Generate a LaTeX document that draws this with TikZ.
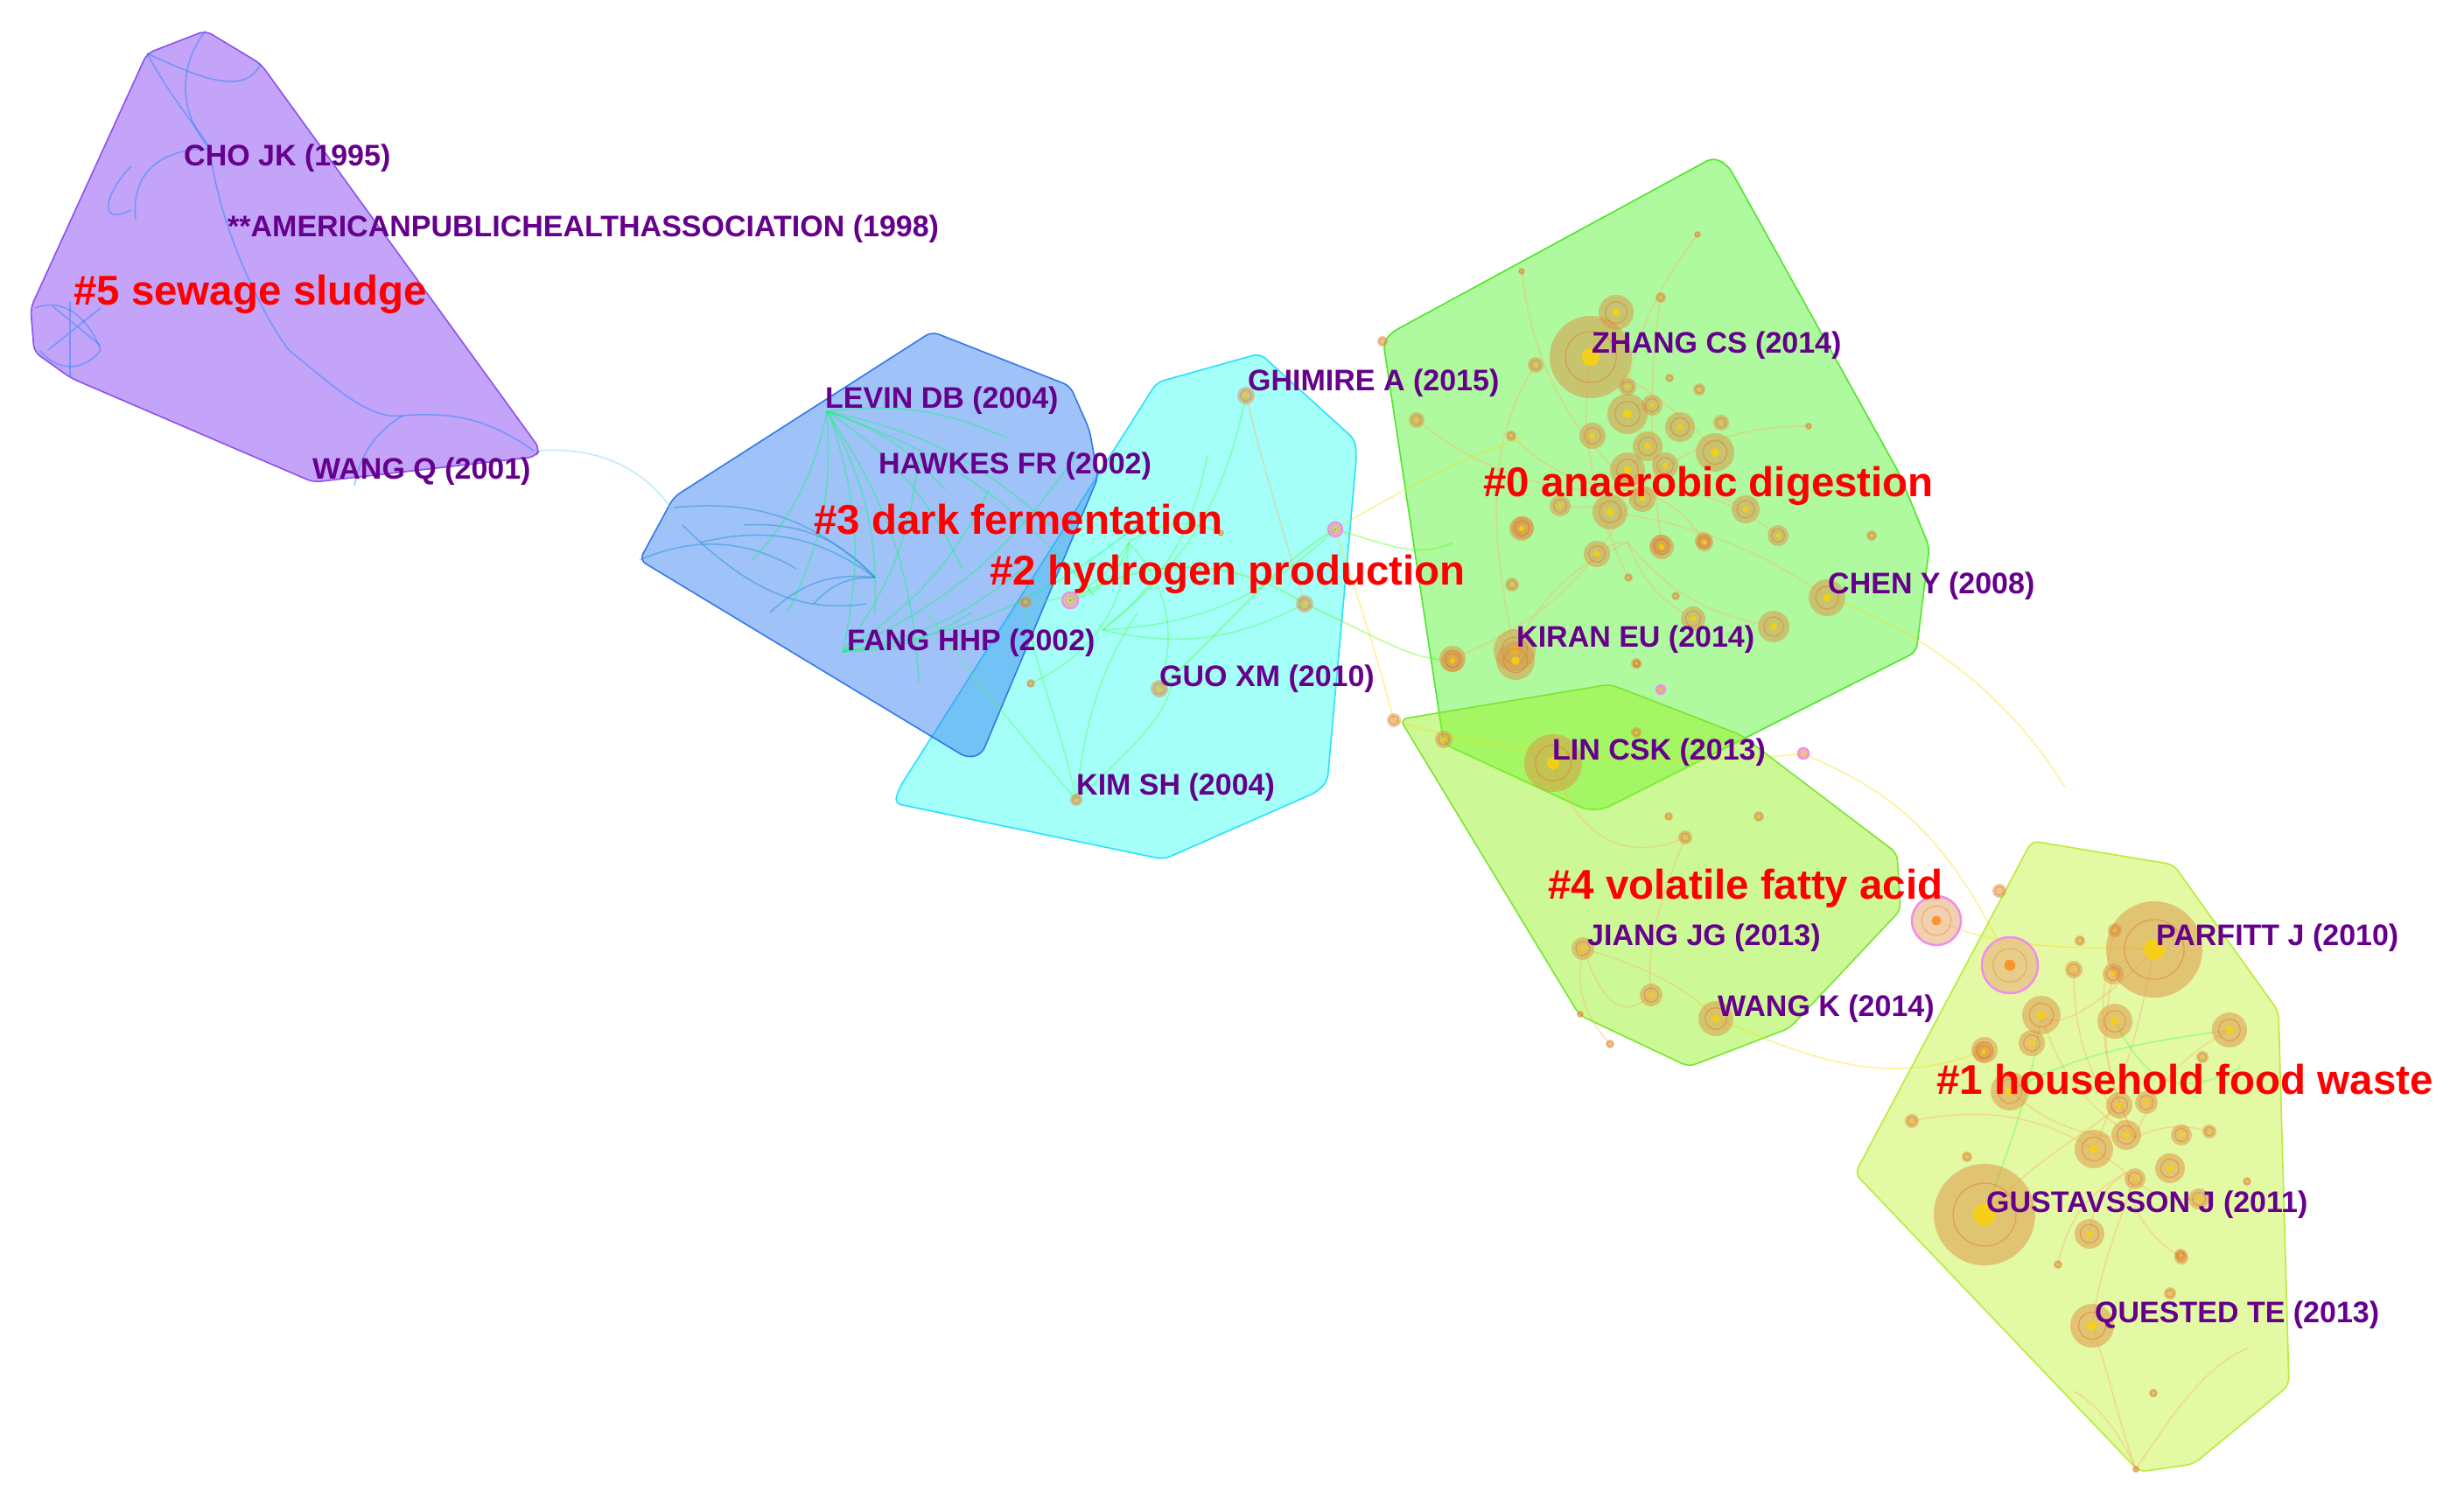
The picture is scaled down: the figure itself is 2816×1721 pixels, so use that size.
\documentclass[tikz,border=0pt]{standalone}
\usepackage{fontspec}
\setmainfont{Liberation Sans}
\definecolor{cfive}{RGB}{137,75,245}\definecolor{bfive}{RGB}{140,80,240}
\definecolor{cthree}{RGB}{65,135,245}\definecolor{bthree}{RGB}{50,120,235}
\definecolor{ctwo}{RGB}{75,255,245}\definecolor{btwo}{RGB}{40,225,250}
\definecolor{czero}{RGB}{97,245,65}\definecolor{bzero}{RGB}{80,230,40}
\definecolor{cfour}{RGB}{155,245,45}\definecolor{bfour}{RGB}{120,230,50}
\definecolor{cone}{RGB}{201,245,75}\definecolor{bone}{RGB}{185,235,60}
\definecolor{lblpurple}{RGB}{102,0,140}
\definecolor{bubor}{RGB}{222,145,65}
\definecolor{bubpink}{RGB}{240,140,240}
\newcommand{\bub}[3]{\fill[bubor,opacity=0.5] (#1,#2) circle[radius=#3];
  \draw[bubor!80!red,opacity=0.5,line width=1.2pt] (#1,#2) circle[radius=0.62*#3];
  \fill[yellow!70!orange,opacity=0.8] (#1,#2) circle[radius=0.22*#3];}
\newcommand{\pbub}[3]{\fill[bubor!70!white,opacity=0.6] (#1,#2) circle[radius=#3];
  \draw[bubpink,line width=2.5pt] (#1,#2) circle[radius=#3];
  \draw[bubor,opacity=0.5,line width=1.2pt] (#1,#2) circle[radius=0.6*#3];
  \fill[orange,opacity=0.7] (#1,#2) circle[radius=0.2*#3];}
\begin{document}
\begin{tikzpicture}[x=1pt,y=-1pt,
  clus/.style={fill opacity=0.5,line width=1.6pt,rounded corners=8pt},
  lblred/.style={text=red,font=\fontsize{47.5}{50}\selectfont\bfseries,anchor=west,inner sep=0pt},
  lblp/.style={text=lblpurple,font=\fontsize{34}{36}\selectfont\bfseries,anchor=west,inner sep=0pt},
  lnk/.style={line width=1.6pt,opacity=0.4}]
\useasboundingbox (0,0) rectangle (2816,1721);
\fill[white] (0,0) rectangle (2816,1721);
% clusters
\draw[clus,fill=cfive,draw=bfive] (235,35) -- (298,73) -- (617,513) -- (612,522) -- (358,551) -- (81,432) -- (39,402) -- (35,352) -- (168,61) -- cycle;
\draw[clus,fill=ctwo,draw=btwo] (1322,437) -- (1440,404) -- (1549,503) -- (1550,525) -- (1517,893) -- (1505,905) -- (1330,982) -- (1022,918) -- (1028,900) -- cycle;
\draw[clus,fill=cthree,draw=bthree] (1065,379) -- (1223,441) -- (1245,491) -- (1255,545) -- (1122,862) -- (1105,866) -- (731,640) -- (770,568) -- cycle;
\draw[clus,fill=czero,draw=bzero] (1958,180) -- (1975,189) -- (2170,540) -- (2205,625) -- (2190,745) -- (1832,925) -- (1812,925) -- (1650,850) -- (1581,392) -- (1590,380) -- cycle;
\draw[clus,fill=cfour,draw=bfour] (1600,822) -- (1840,782) -- (1990,840) -- (2168,975) -- (2172,1040) -- (2045,1175) -- (1930,1219) -- (1805,1160) -- cycle;
\draw[clus,fill=cone,draw=bone] (2322,961) -- (2484,988) -- (2604,1156) -- (2616,1583) -- (2507,1673) -- (2445,1682) -- (2120,1341) -- cycle;
% links
\begin{scope}[lnk]
\draw[cyan!60] (617,515) .. controls (690,510) and (740,540) .. (770,585);
\begin{scope}[blue!50!cyan]
\draw (168,61) .. controls (200,120) and (230,150) .. (240,170);
\draw (240,170) .. controls (180,170) and (150,200) .. (155,250);
\draw (240,170) .. controls (250,260) and (300,360) .. (330,400);
\draw (330,400) .. controls (380,440) and (420,480) .. (460,475);
\draw (460,475) .. controls (520,470) and (560,480) .. (610,515);
\draw (460,475) .. controls (420,500) and (410,530) .. (405,555);
\draw (40,352) .. controls (70,340) and (100,360) .. (115,400) .. controls (100,420) and (70,430) .. (45,400);
\draw (60,350) -- (115,395) (115,352) -- (55,400) (80,345) -- (80,430);
\draw (168,61) .. controls (230,90) and (280,110) .. (298,73);
\draw (240,170) to[bend left=40] (235,35);
\draw (150,190) .. controls (120,220) and (110,260) .. (150,240);
\end{scope}
\begin{scope}[cyan!70!blue]
\foreach \a/\b in {770/580, 800/620, 850/600, 880/700, 930/690}
  \draw (\a,\b) to[bend left=25] (1000,660);
\draw (731,640) .. controls (800,610) and (860,620) .. (910,650);
\draw (780,600) .. controls (860,680) and (920,700) .. (990,690);
\end{scope}
\begin{scope}[green!60!cyan]
\foreach \a/\b in {1000/700, 1050/780, 1100/650, 1200/600, 1150/500, 900/700, 860/640, 1080/560, 1250/680}
  \draw (945,470) to[bend left=15] (\a,\b);
\foreach \a/\b in {950/480, 1050/520, 1130/560, 1230/520, 1180/640, 1300/600, 1110/700}
  \draw (963,745) to[bend right=15] (\a,\b);
\end{scope}
\begin{scope}[green!70]
\draw (1230,914) .. controls (1210,820) and (1180,760) .. (1172,688);
\draw (1230,914) .. controls (1240,820) and (1260,760) .. (1300,700);
\draw (1230,914) .. controls (1150,820) and (1100,760) .. (1060,700);
\draw (1230,914) .. controls (1300,850) and (1330,820) .. (1340,780);
\foreach \a/\b in {1172/688, 1223/686, 1325/787, 1395/609, 1178/781}
  \draw (1290,620) to[bend left=30] (\a,\b);
\foreach \a/\b in {1424/452, 1491/690, 1526/605, 1380/520}
  \draw (1260,720) to[bend right=20] (\a,\b);
\end{scope}
\begin{scope}[green!70!yellow]
\draw (1325,787) .. controls (1400,720) and (1450,650) .. (1526,605);
\draw (1223,686) .. controls (1300,640) and (1400,630) .. (1491,690);
\draw (1491,690) .. controls (1560,720) and (1620,760) .. (1660,753);
\draw (1526,605) .. controls (1580,620) and (1620,640) .. (1660,620);
\end{scope}
\begin{scope}[orange!60]
\draw (1424,452) .. controls (1450,560) and (1480,650) .. (1491,690);
\draw (1818,408) .. controls (1800,500) and (1830,600) .. (1861,660);
\draw (1818,408) .. controls (1900,450) and (1950,500) .. (1960,517);
\draw (1755,417) .. controls (1700,500) and (1700,600) .. (1731,743);
\draw (1898,340) .. controls (1880,450) and (1890,550) .. (1899,625);
\draw (1940,268) .. controls (1900,320) and (1870,380) .. (1860,442);
\draw (1840,585) .. controls (1950,600) and (2030,640) .. (2088,683);
\foreach \a/\b in {1619/480, 1727/498, 1660/753, 1783/578, 1995/582, 2032/612, 1947/618, 1739/310, 2067/487}
  \draw (1870,560) to[bend left=20] (\a,\b);
\foreach \a/\b in {1731/743, 1935/707, 2027/716, 1825/633}
  \draw (1860,620) to[bend right=20] (\a,\b);
\draw (1809,1084) .. controls (1830,1140) and (1850,1170) .. (1887,1137);
\draw (1809,1084) .. controls (1900,1110) and (1940,1140) .. (1961,1164);
\draw (1809,1084) .. controls (1800,1130) and (1810,1160) .. (1840,1193);
\draw (1926,957) .. controls (1900,1020) and (1880,1080) .. (1887,1137);
\draw (1775,872) .. controls (1800,950) and (1850,990) .. (1926,957);
\draw (2462,1085) .. controls (2440,1200) and (2420,1250) .. (2393,1313);
\draw (2462,1085) .. controls (2400,1150) and (2350,1180) .. (2333,1160);
\draw (2268,1388) .. controls (2330,1320) and (2380,1300) .. (2422,1263);
\draw (2391,1515) .. controls (2400,1450) and (2420,1400) .. (2440,1347);
\draw (2441,1679) .. controls (2420,1620) and (2410,1570) .. (2391,1515);
\draw (2441,1679) .. controls (2480,1620) and (2520,1560) .. (2570,1540);
\draw (2441,1679) .. controls (2420,1630) and (2390,1600) .. (2370,1590);
\foreach \a/\b in {2370/1108, 2415/1113, 2417/1063, 2333/1160, 2548/1177, 2297/1247, 2525/1293}
  \draw (2440,1300) to[bend left=20] (\a,\b);
\foreach \a/\b in {2388/1410, 2513/1370, 2493/1437, 2185/1281, 2352/1445}
  \draw (2430,1340) to[bend right=25] (\a,\b);
\end{scope}
\begin{scope}[yellow!80!orange]
\draw (1526,605) .. controls (1600,560) and (1680,520) .. (1740,500);
\draw (1593,823) .. controls (1700,860) and (1900,880) .. (2060,861);
\draw (2060,861) .. controls (2150,900) and (2220,940) .. (2297,1103);
\draw (2088,683) .. controls (2200,720) and (2300,800) .. (2360,900);
\draw (2213,1052) .. controls (2300,1090) and (2380,1080) .. (2462,1085);
\draw (1961,1164) .. controls (2050,1200) and (2150,1250) .. (2268,1200);
\draw (1593,823) .. controls (1560,700) and (1540,650) .. (1526,605);
\end{scope}
\begin{scope}[green!70]
\draw (2297,1247) .. controls (2380,1200) and (2460,1190) .. (2548,1177);
\draw (2268,1388) .. controls (2300,1300) and (2320,1250) .. (2333,1160);
\draw (2417,1167) .. controls (2450,1230) and (2480,1260) .. (2560,1220);
\end{scope}
\end{scope}
% bubbles cluster #0
\bub{1818}{408}{47}\bub{1847}{357}{20}\bub{1755}{417}{9}\bub{1860}{442}{10}
\bub{1860}{473}{23}\bub{1888}{463}{12}\bub{1920}{488}{17}\bub{1967}{483}{9}
\bub{1820}{498}{15}\bub{1883}{510}{17}\bub{1960}{517}{22}\bub{1903}{532}{15}
\bub{1860}{537}{20}\bub{1995}{582}{16}\bub{1840}{585}{20}\bub{1877}{570}{15}
\bub{1783}{578}{12}\bub{1740}{603}{13}\bub{2032}{612}{12}\bub{1947}{618}{10}
\bub{1898}{623}{12}\bub{1898}{340}{6}\bub{1727}{498}{6}\bub{1942}{445}{7}
\bub{1908}{432}{5}\bub{2067}{487}{4}\bub{2088}{683}{21}\bub{1731}{743}{24}
\bub{1660}{753}{15}\bub{2027}{716}{18}\bub{1935}{707}{14}\bub{2139}{612}{6}
\bub{1619}{480}{9}\bub{1940}{268}{4}\bub{1739}{310}{4}\bub{1861}{660}{5}
\bub{1915}{681}{5}\bub{1825}{633}{15}\bub{1899}{625}{14}\bub{1948}{620}{10}
\bub{1739}{604}{14}\bub{1728}{668}{8}\bub{1871}{759}{5}\bub{1580}{390}{6}
% cluster #4 and overlap
\bub{1775}{872}{33}\bub{1650}{845}{10}\bub{1593}{823}{8}\bub{1870}{837}{6}
\bub{2010}{933}{6}\bub{1870}{758}{6}\bub{1660}{755}{13}\bub{1732}{755}{22}
\bub{1809}{1084}{13}\bub{1887}{1137}{13}\bub{1961}{1164}{20}\bub{1926}{957}{8}
\bub{1907}{933}{5}\bub{1806}{1159}{4}\bub{1840}{1193}{5}
\pbub{2061}{861}{6}\pbub{1898}{788}{5}
% cluster #1
\bub{2462}{1085}{55}\pbub{2297}{1103}{32}\pbub{2213}{1052}{28}
\bub{2333}{1160}{22}\bub{2417}{1167}{20}\bub{2548}{1177}{20}\bub{2322}{1192}{15}
\bub{2268}{1200}{15}\bub{2370}{1108}{10}\bub{2415}{1113}{12}\bub{2417}{1063}{8}
\bub{2377}{1075}{6}\bub{2285}{1018}{8}\bub{2393}{1313}{22}\bub{2430}{1297}{17}
\bub{2480}{1335}{17}\bub{2440}{1347}{12}\bub{2493}{1297}{12}\bub{2422}{1263}{15}
\bub{2453}{1260}{13}\bub{2525}{1293}{8}\bub{2517}{1208}{7}\bub{2297}{1247}{22}
\bub{2268}{1388}{58}\bub{2388}{1410}{17}\bub{2513}{1370}{12}\bub{2248}{1322}{6}
\bub{2568}{1350}{5}\bub{2493}{1437}{8}\bub{2352}{1445}{5}\bub{2391}{1515}{25}
\bub{2492}{1434}{7}\bub{2480}{1478}{7}\bub{2461}{1592}{5}\bub{2441}{1679}{4}
\bub{2185}{1281}{8}\bub{2267}{1202}{12}
% cluster #2 / #3
\bub{1424}{452}{10}\pbub{1526}{605}{8}\bub{1491}{690}{10}\bub{1325}{787}{10}
\bub{1172}{688}{7}\pbub{1223}{686}{9}\bub{1395}{609}{4}\bub{1178}{781}{5}
\bub{1230}{914}{7}
% labels
\node[lblred] (l5) at (84,336) {\#5 sewage sludge};
\node[lblred] (l3) at (930,594) {\#3 dark fermentation};
\node[lblred] (l2) at (1131,656) {\#2 hydrogen production};
\node[lblred] (l0) at (1695,555) {\#0 anaerobic digestion};
\node[lblred] (l4) at (1769,1015) {\#4 volatile fatty acid};
\node[lblred] (l1) at (2213,1234) {\#1 household food waste};
\node[lblp] (cho) at (210,181) {CHO JK (1995)};
\node[lblp] (aph) at (260,262) {**AMERICANPUBLICHEALTHASSOCIATION (1998)};
\node[lblp] (wangq) at (357,539) {WANG Q (2001)};
\node[lblp] (levin) at (943,458) {LEVIN DB (2004)};
\node[lblp] (hawkes) at (1004,533) {HAWKES FR (2002)};
\node[lblp] (fang) at (968,735) {FANG HHP (2002)};
\node[lblp] (ghimire) at (1426,438) {GHIMIRE A (2015)};
\node[lblp] (guo) at (1325,776) {GUO XM (2010)};
\node[lblp] (kim) at (1230,900) {KIM SH (2004)};
\node[lblp] (zhang) at (1819,395) {ZHANG CS (2014)};
\node[lblp] (cheny) at (2089,670) {CHEN Y (2008)};
\node[lblp] (kiran) at (1733,731) {KIRAN EU (2014)};
\node[lblp] (lin) at (1774,860) {LIN CSK (2013)};
\node[lblp] (jiang) at (1814,1072) {JIANG JG (2013)};
\node[lblp] (wangk) at (1963,1153) {WANG K (2014)};
\node[lblp] (parfitt) at (2464,1072) {PARFITT J (2010)};
\node[lblp] (gust) at (2270,1377) {GUSTAVSSON J (2011)};
\node[lblp] (quested) at (2394,1503) {QUESTED TE (2013)};
\end{tikzpicture}
\end{document}
